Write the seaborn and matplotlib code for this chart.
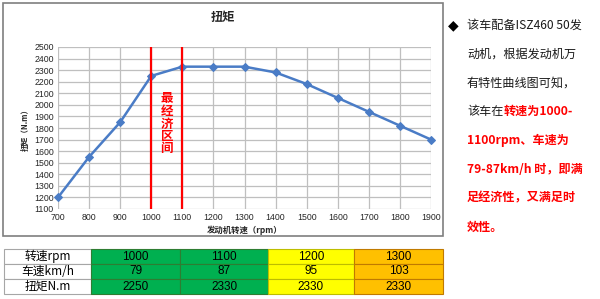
import numpy as np
import pandas as pd
import seaborn as sns
import matplotlib
matplotlib.use("Agg")
import matplotlib.pyplot as plt
from matplotlib.patches import Rectangle

# ---------------- data ----------------
rpm = [700, 800, 900, 1000, 1100, 1200, 1300, 1400, 1500, 1600, 1700, 1800, 1900]
torque = [1200, 1550, 1850, 2250, 2330, 2330, 2330, 2280, 2180, 2060, 1940, 1820, 1700]
econ_range = [1000, 1100]
y_ticks = list(range(1100, 2501, 100))
x_ticks = list(range(700, 1901, 100))

row_labels = ["转速rpm", "车速km/h", "扭矩N.m"]
table_rpm = [1000, 1100, 1200, 1300]
table_speed = [79, 87, 95, 103]
table_torque = [2250, 2330, 2330, 2330]

title = "扭矩"
xlabel = "发动机转速（rpm）"
ylabel = "扭矩（N.m）"
band_label = "最经济区间"

note_lines = [
    [("该车配备ISZ460 50发", "k")],
    [("动机，根据发动机万", "k")],
    [("有特性曲线图可知，", "k")],
    [("该车在", "k"), ("转速为1000-", "r")],
    [("1100rpm、车速为", "r")],
    [("79-87km/h 时，即满", "r")],
    [("足经济性，又满足时", "r")],
    [("效性。", "r")],
]

# ---------------- style ----------------
sns.set_style("whitegrid")
CJK = ["Noto Sans CJK SC", "DejaVu Sans"]
plt.rcParams["font.family"] = CJK

W, H = 600, 299
fig = plt.figure(figsize=(6, 2.99), dpi=100)

def fx(px):
    return px / W

def fy(py):
    return 1 - py / H

# chart frame
fig.patches.append(Rectangle((fx(3), fy(236)), fx(440), 233 / H, transform=fig.transFigure,
                             fill=False, edgecolor="#7F7F7F", lw=1.2, zorder=0))

ax = fig.add_axes([fx(58), fy(209), fx(431 - 58), (209 - 47) / H])
df = pd.DataFrame({"rpm": rpm, "torque": torque})
sns.lineplot(data=df, x="rpm", y="torque", ax=ax, color="#4A7CC6", lw=1.8,
             marker="D", markersize=4.5, markeredgecolor="#4A7CC6", clip_on=False, zorder=5)
ax.set_xlim(700, 1900)
ax.set_ylim(1100, 2500)
ax.set_xticks(x_ticks)
ax.set_yticks(y_ticks)
ax.tick_params(axis="both", labelsize=6.3, length=0, pad=3)
for lab in ax.get_xticklabels() + ax.get_yticklabels():
    lab.set_fontfamily("Liberation Sans")
ax.grid(True, color="#BFBFBF", lw=0.9)
for s in ax.spines.values():
    s.set_visible(False)
ax.set_xlabel("")
ax.set_ylabel("")

for v in econ_range:
    ax.axvline(v, color="#FF0000", lw=1.6, zorder=6)
ax.text(np.mean(econ_range), 1835, "\n".join(band_label), color="#FF0000", fontsize=9,
        fontweight="bold", ha="center", va="center", linespacing=0.95, zorder=7)

fig.text(fx(223), fy(17), title, fontsize=8.8, fontweight="bold", ha="center", va="center")
fig.text(fx(245), fy(230), xlabel, fontsize=6, fontweight="bold", ha="center", va="center")
fig.text(fx(25), fy(128), ylabel, fontsize=5.5, fontweight="bold", ha="center", va="center",
         rotation=90)

# ---------------- right note ----------------
fig.text(fx(453), fy(25), "◆", fontsize=10, ha="center", va="center", color="k",
         family=["DejaVu Sans"])
fig.canvas.draw()
renderer = fig.canvas.get_renderer()
for i, segs in enumerate(note_lines):
    y = 25 + 28.9 * i
    x = 467
    for txt, c in segs:
        t = fig.text(fx(x), fy(y), txt, fontsize=8.7, ha="left", va="center",
                     color="#FF0000" if c == "r" else "#1A1A1A",
                     fontweight="bold" if c == "r" else "normal")
        bb = t.get_window_extent(renderer=renderer)
        x += bb.width

# ---------------- table ----------------
tax = fig.add_axes([0, 0, 1, 1])
tax.set_xlim(0, W)
tax.set_ylim(H, 0)
tax.axis("off")
col_x = [4, 91, 180, 268, 354, 443]
row_y = [249, 264, 279, 294]
col_fill = ["#00B050", "#00B050", "#FFFF00", "#FFC000"]
col_edge = ["#2E7D32", "#2E7D32", "#BDBD00", "#C07A00"]
rows = [table_rpm, table_speed, table_torque]
for r in range(3):
    y0, y1 = row_y[r], row_y[r + 1]
    tax.add_patch(Rectangle((col_x[0], y0), col_x[1] - col_x[0], y1 - y0,
                            facecolor="white", edgecolor="#A6A6A6", lw=0.8))
    tax.text((col_x[0] + col_x[1]) / 2, (y0 + y1) / 2, row_labels[r], fontsize=8.5,
             ha="center", va="center", color="k")
    for c in range(4):
        tax.add_patch(Rectangle((col_x[c + 1], y0), col_x[c + 2] - col_x[c + 1], y1 - y0,
                                facecolor=col_fill[c], edgecolor=col_edge[c], lw=0.8))
        tax.text((col_x[c + 1] + col_x[c + 2]) / 2, (y0 + y1) / 2, str(rows[r][c]),
                 fontsize=8.5, ha="center", va="center", color="k",
                 family=["Liberation Sans"])

fig.savefig("out.png", dpi=100)
